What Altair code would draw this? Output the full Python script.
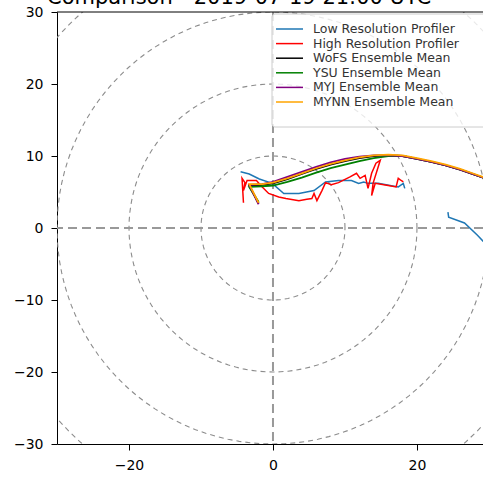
import math
import pandas as pd
import altair as alt

# ---------------- data ----------------
low1_u = [-4.5, -3.3, -1.9, -0.1, 1.5, 3.6, 5.7, 7.3, 9.1, 10.9, 11.9, 12.6, 13.2, 14.6, 17.4, 18.1, 18.3]
low1_v = [7.8, 7.5, 6.8, 6.2, 4.8, 4.8, 5.2, 6.4, 6.6, 6.6, 6.2, 6.4, 6.2, 6.2, 5.7, 6.2, 5.5]
low2_u = [24.3, 24.4, 26.6, 28.4, 29.8]
low2_v = [2.2, 1.5, 0.7, -1.0, -2.5]

high_u = [-4.1, -4.3, -3.9, -4.1, -3.6, -2.3, -1.7, -0.6, 0.8, 1.8, 3.6, 4.7, 5.4, 5.7, 6.1, 6.8,
          7.3, 8.1, 9.1, 10.7, 11.6, 12.1, 12.8, 13.2, 13.7, 14.3, 14.9, 13.9, 13.7, 14.2, 16.0,
          17.1, 17.4, 17.8, 18.1]
high_v = [3.5, 6.9, 6.3, 5.2, 6.6, 6.6, 5.9, 4.8, 4.3, 4.1, 3.8, 4.0, 4.1, 4.8, 3.8, 5.2,
          6.3, 6.0, 6.3, 7.1, 7.6, 6.9, 7.3, 5.5, 7.6, 9.0, 9.4, 6.2, 4.5, 6.2, 5.9,
          5.7, 6.9, 6.6, 6.4]

ens_u = [-2.0, -3.3, -1.5, 0, 2, 4, 6, 8, 10, 12, 14, 16, 18, 20, 22, 24, 26, 28, 30]
wofs_v = [3.4, 5.9, 6.0, 6.2, 6.8, 7.5, 8.2, 8.8, 9.3, 9.7, 10.0, 10.1, 10.0, 9.6, 9.2, 8.7, 8.1, 7.4, 6.7]
ysu_v = [3.6, 5.7, 5.8, 5.9, 6.4, 7.0, 7.7, 8.3, 8.8, 9.3, 9.7, 10.0, 10.0, 9.6, 9.2, 8.7, 8.1, 7.4, 6.7]
myj_v = [3.3, 6.0, 6.1, 6.4, 7.1, 7.8, 8.5, 9.1, 9.6, 9.9, 10.1, 10.1, 10.0, 9.6, 9.2, 8.7, 8.1, 7.4, 6.7]
mynn_v = [3.5, 6.1, 6.1, 6.3, 6.9, 7.6, 8.3, 8.9, 9.4, 9.8, 10.1, 10.2, 10.1, 9.7, 9.3, 8.8, 8.2, 7.5, 6.8]

series_names = ["Low Resolution Profiler", "High Resolution Profiler", "WoFS Ensemble Mean",
                "YSU Ensemble Mean", "MYJ Ensemble Mean", "MYNN Ensemble Mean"]
series_colors = ["#1f77b4", "#ff0000", "#000000", "#008000", "#800080", "#ffa500"]
series_widths = [1.5, 1.5, 1.8, 1.8, 1.8, 1.8]

ring_radii = [10, 20, 30, 40]
x_ticks = [-20, 0, 20]
y_ticks = [-30, -20, -10, 0, 10, 20, 30]
title_text = "Comparison - 2019-07-19 21:00 UTC"

# ---------------- tables ----------------
rows = []
def add(name, seg, us, vs):
    for i, (u, v) in enumerate(zip(us, vs)):
        rows.append({"series": name, "seg": seg, "i": i, "u": u, "v": v})

add(series_names[0], "a", low1_u, low1_v)
add(series_names[0], "b", low2_u, low2_v)
add(series_names[1], "a", high_u, high_v)
add(series_names[2], "a", ens_u, wofs_v)
add(series_names[3], "a", ens_u, ysu_v)
add(series_names[4], "a", ens_u, myj_v)
add(series_names[5], "a", ens_u, mynn_v)
df = pd.DataFrame(rows)

ring_rows = []
for r in ring_radii:
    for k in range(0, 121):
        a = 2 * math.pi * k / 120
        ring_rows.append({"r": r, "k": k, "u": r * math.cos(a), "v": r * math.sin(a)})
rings = pd.DataFrame(ring_rows)

# ---------------- geometry ----------------
PX = 7.2
XMIN, XMAX = -30, 29.17
W = round((XMAX - XMIN) * PX)
H = round(60 * PX)

font = "DejaVu Sans"

# legend rows (pixel layout of the legend box, in plot-area pixels)
LEG_TOP, LEG_STEP = 17, 14.6
legend_df = pd.DataFrame({
    "series": series_names,
    "py": [LEG_TOP + LEG_STEP * k for k in range(len(series_names))],
})

xs = alt.Scale(domain=[XMIN, XMAX], nice=False, zero=False)
ys = alt.Scale(domain=[-30, 30], nice=False, zero=False)

xax = alt.Axis(values=x_ticks, grid=False, title=None, labelFontSize=14, labelFont=font,
               labelColor="black", tickColor="black", domainColor="black", tickSize=6,
               labelPadding=8, domainWidth=1, tickWidth=1)
yax = alt.Axis(values=y_ticks, grid=False, title=None, labelFontSize=14, labelFont=font,
               labelColor="black", tickColor="black", domainColor="black", tickSize=6,
               labelPadding=8, domainWidth=1, tickWidth=1)

ring_layer = alt.Chart(rings).mark_line(
    color="#8c8c8c", strokeDash=[5, 4], strokeWidth=1.1, clip=True
).encode(
    x=alt.X("u:Q", scale=xs, axis=xax),
    y=alt.Y("v:Q", scale=ys, axis=yax),
    detail="r:N",
    order="k:Q",
)

zero_df = pd.DataFrame({"z": [0]})
hline = alt.Chart(zero_df).mark_rule(color="#999999", strokeDash=[9, 5], strokeWidth=2).encode(
    y=alt.Y("z:Q", scale=ys)
)
vline = alt.Chart(zero_df).mark_rule(color="#999999", strokeDash=[9, 5], strokeWidth=2).encode(
    x=alt.X("z:Q", scale=xs)
)

color_scale = alt.Scale(domain=series_names, range=series_colors)

line_layers = []
for name, lw in zip(series_names, series_widths):
    sub = df[df.series == name]
    line_layers.append(
        alt.Chart(sub).mark_line(strokeWidth=lw, clip=True).encode(
            x=alt.X("u:Q", scale=xs),
            y=alt.Y("v:Q", scale=ys),
            color=alt.Color("series:N", scale=color_scale, legend=None),
            detail="seg:N",
            order="i:Q",
        )
    )

# legend (frame extends past the right edge, as in the cropped original)
legend_box = alt.Chart(zero_df).mark_rect(
    fill="white", fillOpacity=0.8, stroke="#cccccc", strokeWidth=1, cornerRadius=3, clip=False
).encode(x=alt.value(215), x2=alt.value(W + 12), y=alt.value(2), y2=alt.value(115))

legend_lines = alt.Chart(legend_df).mark_rule(strokeWidth=1.5).encode(
    x=alt.value(219), x2=alt.value(246),
    y=alt.Y("py:Q", scale=None),
    color=alt.Color("series:N", scale=color_scale, legend=None),
)
legend_text = alt.Chart(legend_df).mark_text(
    font=font, fontSize=12.5, color="#333333", align="left", baseline="middle"
).encode(
    x=alt.value(256),
    y=alt.Y("py:Q", scale=None),
    text="series:N",
)

top_spine = alt.Chart(zero_df).mark_rule(color="black", strokeWidth=1).encode(
    x=alt.value(0), x2=alt.value(W), y=alt.value(0)
)

title_layer = alt.Chart(zero_df).mark_text(
    font=font, fontSize=21, color="black", align="left", baseline="alphabetic", clip=False
).encode(x=alt.value(-10), y=alt.value(-8), text=alt.value(title_text))

chart = alt.layer(
    ring_layer, hline, vline, *line_layers, legend_box, legend_lines, legend_text,
    top_spine, title_layer
).properties(
    width=W, height=H,
    autosize=alt.AutoSizeParams(type="none"),
    padding={"left": 57, "top": 12, "right": 0, "bottom": 35},
    background="white",
).configure_view(stroke=None)

chart.save("out.html", embed_options={"renderer": "svg", "actions": False})
